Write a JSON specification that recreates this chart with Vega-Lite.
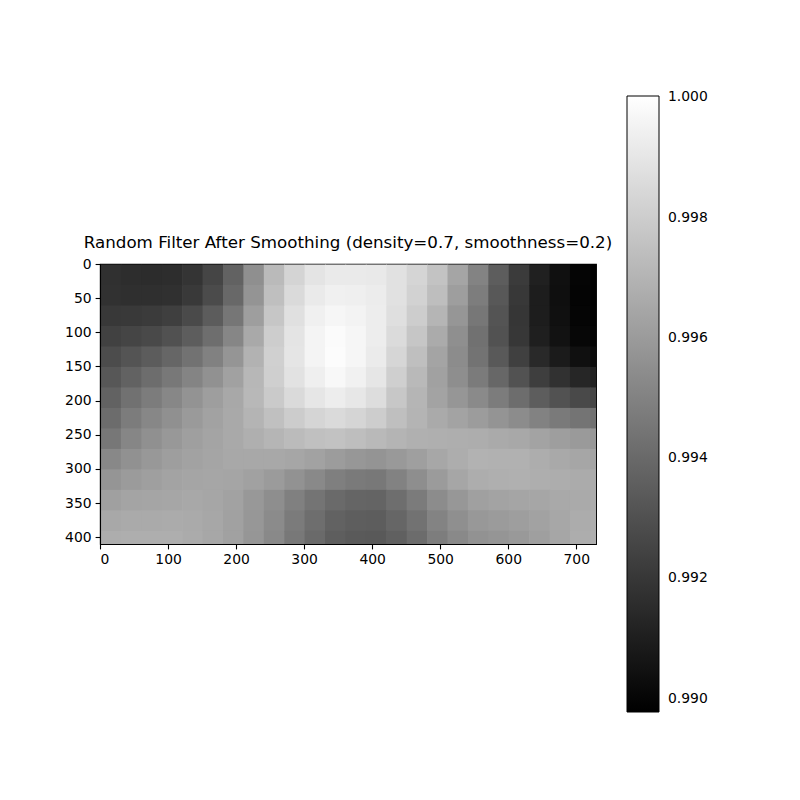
{
  "$schema": "https://vega.github.io/schema/vega-lite/v6.json",
  "width": 496,
  "height": 280,
  "autosize": {"type": "none"},
  "padding": {"left": 100, "top": 264, "right": 204, "bottom": 256},
  "background": "white",
  "title": {
    "text": "Random Filter After Smoothing (density=0.7, smoothness=0.2)",
    "font": "DejaVu Sans",
    "fontSize": 16.7,
    "fontWeight": "normal",
    "color": "black",
    "anchor": "middle",
    "frame": "group",
    "baseline": "alphabetic",
    "offset": -169
  },
  "data": {
    "values": [
      {"x":0,"y":0,"v":0.99172},{"x":30,"y":0,"v":0.9916},{"x":60,"y":0,"v":0.99156},{"x":90,"y":0,"v":0.9916},{"x":120,"y":0,"v":0.99188},{"x":150,"y":0,"v":0.99256},{"x":180,"y":0,"v":0.99372},{"x":210,"y":0,"v":0.99552},{"x":240,"y":0,"v":0.99724},{"x":270,"y":0,"v":0.99828},{"x":300,"y":0,"v":0.99892},{"x":330,"y":0,"v":0.99916},{"x":360,"y":0,"v":0.99916},{"x":390,"y":0,"v":0.99912},{"x":420,"y":0,"v":0.9988},{"x":450,"y":0,"v":0.99832},{"x":480,"y":0,"v":0.9976},{"x":510,"y":0,"v":0.9964},{"x":540,"y":0,"v":0.99504},{"x":570,"y":0,"v":0.99352},{"x":600,"y":0,"v":0.99216},{"x":630,"y":0,"v":0.99108},{"x":660,"y":0,"v":0.99044},{"x":690,"y":0,"v":0.99},{"x":720,"y":0,"v":0.9898},
      {"x":0,"y":30,"v":0.99176},{"x":30,"y":30,"v":0.99168},{"x":60,"y":30,"v":0.99168},{"x":90,"y":30,"v":0.99172},{"x":120,"y":30,"v":0.99208},{"x":150,"y":30,"v":0.9928},{"x":180,"y":30,"v":0.99396},{"x":210,"y":30,"v":0.99572},{"x":240,"y":30,"v":0.99744},{"x":270,"y":30,"v":0.99852},{"x":300,"y":30,"v":0.99916},{"x":330,"y":30,"v":0.9994},{"x":360,"y":30,"v":0.99936},{"x":390,"y":30,"v":0.99924},{"x":420,"y":30,"v":0.9988},{"x":450,"y":30,"v":0.9982},{"x":480,"y":30,"v":0.9974},{"x":510,"y":30,"v":0.99612},{"x":540,"y":30,"v":0.9948},{"x":570,"y":30,"v":0.99332},{"x":600,"y":30,"v":0.99204},{"x":630,"y":30,"v":0.99096},{"x":660,"y":30,"v":0.9904},{"x":690,"y":30,"v":0.98996},{"x":720,"y":30,"v":0.9898},
      {"x":0,"y":60,"v":0.99204},{"x":30,"y":60,"v":0.99208},{"x":60,"y":60,"v":0.99216},{"x":90,"y":60,"v":0.99232},{"x":120,"y":60,"v":0.99276},{"x":150,"y":60,"v":0.99348},{"x":180,"y":60,"v":0.99452},{"x":210,"y":60,"v":0.99612},{"x":240,"y":60,"v":0.99772},{"x":270,"y":60,"v":0.99876},{"x":300,"y":60,"v":0.9994},{"x":330,"y":60,"v":0.99964},{"x":360,"y":60,"v":0.99952},{"x":390,"y":60,"v":0.99928},{"x":420,"y":60,"v":0.99872},{"x":450,"y":60,"v":0.998},{"x":480,"y":60,"v":0.99704},{"x":510,"y":60,"v":0.9958},{"x":540,"y":60,"v":0.99456},{"x":570,"y":60,"v":0.99316},{"x":600,"y":60,"v":0.99196},{"x":630,"y":60,"v":0.99096},{"x":660,"y":60,"v":0.99044},{"x":690,"y":60,"v":0.99},{"x":720,"y":60,"v":0.98984},
      {"x":0,"y":90,"v":0.9924},{"x":30,"y":90,"v":0.99256},{"x":60,"y":90,"v":0.99272},{"x":90,"y":90,"v":0.99304},{"x":120,"y":90,"v":0.99352},{"x":150,"y":90,"v":0.9942},{"x":180,"y":90,"v":0.99516},{"x":210,"y":90,"v":0.99656},{"x":240,"y":90,"v":0.998},{"x":270,"y":90,"v":0.99892},{"x":300,"y":90,"v":0.99956},{"x":330,"y":90,"v":0.99984},{"x":360,"y":90,"v":0.99964},{"x":390,"y":90,"v":0.99928},{"x":420,"y":90,"v":0.99856},{"x":450,"y":90,"v":0.99772},{"x":480,"y":90,"v":0.99664},{"x":510,"y":90,"v":0.99552},{"x":540,"y":90,"v":0.99432},{"x":570,"y":90,"v":0.99308},{"x":600,"y":90,"v":0.992},{"x":630,"y":90,"v":0.99104},{"x":660,"y":90,"v":0.99052},{"x":690,"y":90,"v":0.99008},{"x":720,"y":90,"v":0.98992},
      {"x":0,"y":120,"v":0.99284},{"x":30,"y":120,"v":0.99316},{"x":60,"y":120,"v":0.99348},{"x":90,"y":120,"v":0.99388},{"x":120,"y":120,"v":0.99436},{"x":150,"y":120,"v":0.99496},{"x":180,"y":120,"v":0.99576},{"x":210,"y":120,"v":0.99692},{"x":240,"y":120,"v":0.99812},{"x":270,"y":120,"v":0.99896},{"x":300,"y":120,"v":0.99956},{"x":330,"y":120,"v":0.99988},{"x":360,"y":120,"v":0.99964},{"x":390,"y":120,"v":0.9992},{"x":420,"y":120,"v":0.99836},{"x":450,"y":120,"v":0.99744},{"x":480,"y":120,"v":0.99636},{"x":510,"y":120,"v":0.9954},{"x":540,"y":120,"v":0.9944},{"x":570,"y":120,"v":0.99336},{"x":600,"y":120,"v":0.99236},{"x":630,"y":120,"v":0.99144},{"x":660,"y":120,"v":0.99088},{"x":690,"y":120,"v":0.99044},{"x":720,"y":120,"v":0.99024},
      {"x":0,"y":150,"v":0.99328},{"x":30,"y":150,"v":0.99372},{"x":60,"y":150,"v":0.99416},{"x":90,"y":150,"v":0.9946},{"x":120,"y":150,"v":0.99508},{"x":150,"y":150,"v":0.9956},{"x":180,"y":150,"v":0.99624},{"x":210,"y":150,"v":0.99712},{"x":240,"y":150,"v":0.99808},{"x":270,"y":150,"v":0.99884},{"x":300,"y":150,"v":0.99936},{"x":330,"y":150,"v":0.99972},{"x":360,"y":150,"v":0.99944},{"x":390,"y":150,"v":0.999},{"x":420,"y":150,"v":0.99808},{"x":450,"y":150,"v":0.9972},{"x":480,"y":150,"v":0.99624},{"x":510,"y":150,"v":0.99548},{"x":540,"y":150,"v":0.99472},{"x":570,"y":150,"v":0.99392},{"x":600,"y":150,"v":0.99308},{"x":630,"y":150,"v":0.99228},{"x":660,"y":150,"v":0.99176},{"x":690,"y":150,"v":0.99132},{"x":720,"y":150,"v":0.99112},
      {"x":0,"y":180,"v":0.99372},{"x":30,"y":180,"v":0.99432},{"x":60,"y":180,"v":0.99476},{"x":90,"y":180,"v":0.9952},{"x":120,"y":180,"v":0.99568},{"x":150,"y":180,"v":0.99612},{"x":180,"y":180,"v":0.99652},{"x":210,"y":180,"v":0.99716},{"x":240,"y":180,"v":0.99788},{"x":270,"y":180,"v":0.99852},{"x":300,"y":180,"v":0.999},{"x":330,"y":180,"v":0.99928},{"x":360,"y":180,"v":0.99904},{"x":390,"y":180,"v":0.99864},{"x":420,"y":180,"v":0.99776},{"x":450,"y":180,"v":0.99704},{"x":480,"y":180,"v":0.99632},{"x":510,"y":180,"v":0.9958},{"x":540,"y":180,"v":0.99532},{"x":570,"y":180,"v":0.99476},{"x":600,"y":180,"v":0.99416},{"x":630,"y":180,"v":0.99352},{"x":660,"y":180,"v":0.99308},{"x":690,"y":180,"v":0.99272},{"x":720,"y":180,"v":0.99256},
      {"x":0,"y":210,"v":0.99412},{"x":30,"y":210,"v":0.99476},{"x":60,"y":210,"v":0.9952},{"x":90,"y":210,"v":0.99556},{"x":120,"y":210,"v":0.99596},{"x":150,"y":210,"v":0.99628},{"x":180,"y":210,"v":0.99656},{"x":210,"y":210,"v":0.997},{"x":240,"y":210,"v":0.99748},{"x":270,"y":210,"v":0.99796},{"x":300,"y":210,"v":0.99832},{"x":330,"y":210,"v":0.99852},{"x":360,"y":210,"v":0.99832},{"x":390,"y":210,"v":0.998},{"x":420,"y":210,"v":0.99744},{"x":450,"y":210,"v":0.997},{"x":480,"y":210,"v":0.9966},{"x":510,"y":210,"v":0.99632},{"x":540,"y":210,"v":0.99604},{"x":570,"y":210,"v":0.99572},{"x":600,"y":210,"v":0.9954},{"x":630,"y":210,"v":0.995},{"x":660,"y":210,"v":0.99468},{"x":690,"y":210,"v":0.99444},{"x":720,"y":210,"v":0.99432},
      {"x":0,"y":240,"v":0.99456},{"x":30,"y":240,"v":0.99516},{"x":60,"y":240,"v":0.99556},{"x":90,"y":240,"v":0.99588},{"x":120,"y":240,"v":0.99616},{"x":150,"y":240,"v":0.99636},{"x":180,"y":240,"v":0.99656},{"x":210,"y":240,"v":0.9968},{"x":240,"y":240,"v":0.99704},{"x":270,"y":240,"v":0.99728},{"x":300,"y":240,"v":0.99748},{"x":330,"y":240,"v":0.99756},{"x":360,"y":240,"v":0.9974},{"x":390,"y":240,"v":0.9972},{"x":420,"y":240,"v":0.997},{"x":450,"y":240,"v":0.99684},{"x":480,"y":240,"v":0.9968},{"x":510,"y":240,"v":0.99676},{"x":540,"y":240,"v":0.99672},{"x":570,"y":240,"v":0.9966},{"x":600,"y":240,"v":0.99652},{"x":630,"y":240,"v":0.99632},{"x":660,"y":240,"v":0.99612},{"x":690,"y":240,"v":0.99596},{"x":720,"y":240,"v":0.99588},
      {"x":0,"y":270,"v":0.99524},{"x":30,"y":270,"v":0.9956},{"x":60,"y":270,"v":0.99588},{"x":90,"y":270,"v":0.99612},{"x":120,"y":270,"v":0.99628},{"x":150,"y":270,"v":0.9964},{"x":180,"y":270,"v":0.99652},{"x":210,"y":270,"v":0.99652},{"x":240,"y":270,"v":0.99652},{"x":270,"y":270,"v":0.99644},{"x":300,"y":270,"v":0.99628},{"x":330,"y":270,"v":0.99604},{"x":360,"y":270,"v":0.99584},{"x":390,"y":270,"v":0.99572},{"x":420,"y":270,"v":0.99592},{"x":450,"y":270,"v":0.99616},{"x":480,"y":270,"v":0.99648},{"x":510,"y":270,"v":0.99672},{"x":540,"y":270,"v":0.99692},{"x":570,"y":270,"v":0.99688},{"x":600,"y":270,"v":0.99688},{"x":630,"y":270,"v":0.99672},{"x":660,"y":270,"v":0.99656},{"x":690,"y":270,"v":0.99644},{"x":720,"y":270,"v":0.99636},
      {"x":0,"y":300,"v":0.99576},{"x":30,"y":300,"v":0.996},{"x":60,"y":300,"v":0.99616},{"x":90,"y":300,"v":0.99632},{"x":120,"y":300,"v":0.9964},{"x":150,"y":300,"v":0.99644},{"x":180,"y":300,"v":0.9964},{"x":210,"y":300,"v":0.99624},{"x":240,"y":300,"v":0.996},{"x":270,"y":300,"v":0.99564},{"x":300,"y":300,"v":0.99528},{"x":330,"y":300,"v":0.99488},{"x":360,"y":300,"v":0.99468},{"x":390,"y":300,"v":0.9946},{"x":420,"y":300,"v":0.995},{"x":450,"y":300,"v":0.99548},{"x":480,"y":300,"v":0.996},{"x":510,"y":300,"v":0.99644},{"x":540,"y":300,"v":0.99672},{"x":570,"y":300,"v":0.9968},{"x":600,"y":300,"v":0.99684},{"x":630,"y":300,"v":0.99676},{"x":660,"y":300,"v":0.99672},{"x":690,"y":300,"v":0.99664},{"x":720,"y":300,"v":0.99664},
      {"x":0,"y":330,"v":0.9962},{"x":30,"y":330,"v":0.99636},{"x":60,"y":330,"v":0.9964},{"x":90,"y":330,"v":0.99644},{"x":120,"y":330,"v":0.99652},{"x":150,"y":330,"v":0.99644},{"x":180,"y":330,"v":0.99628},{"x":210,"y":330,"v":0.99588},{"x":240,"y":330,"v":0.99548},{"x":270,"y":330,"v":0.99492},{"x":300,"y":330,"v":0.99444},{"x":330,"y":330,"v":0.99404},{"x":360,"y":330,"v":0.99384},{"x":390,"y":330,"v":0.9938},{"x":420,"y":330,"v":0.9942},{"x":450,"y":330,"v":0.99472},{"x":480,"y":330,"v":0.9954},{"x":510,"y":330,"v":0.99584},{"x":540,"y":330,"v":0.9962},{"x":570,"y":330,"v":0.99632},{"x":600,"y":330,"v":0.9964},{"x":630,"y":330,"v":0.99644},{"x":660,"y":330,"v":0.99656},{"x":690,"y":330,"v":0.9966},{"x":720,"y":330,"v":0.99668},
      {"x":0,"y":360,"v":0.99652},{"x":30,"y":360,"v":0.9966},{"x":60,"y":360,"v":0.9966},{"x":90,"y":360,"v":0.99664},{"x":120,"y":360,"v":0.9966},{"x":150,"y":360,"v":0.99648},{"x":180,"y":360,"v":0.99624},{"x":210,"y":360,"v":0.99584},{"x":240,"y":360,"v":0.99536},{"x":270,"y":360,"v":0.99472},{"x":300,"y":360,"v":0.9942},{"x":330,"y":360,"v":0.99372},{"x":360,"y":360,"v":0.99356},{"x":390,"y":360,"v":0.99352},{"x":420,"y":360,"v":0.99388},{"x":450,"y":360,"v":0.99436},{"x":480,"y":360,"v":0.99504},{"x":510,"y":360,"v":0.99552},{"x":540,"y":360,"v":0.99588},{"x":570,"y":360,"v":0.996},{"x":600,"y":360,"v":0.99612},{"x":630,"y":360,"v":0.99628},{"x":660,"y":360,"v":0.99648},{"x":690,"y":360,"v":0.99668},{"x":720,"y":360,"v":0.99676},
      {"x":0,"y":390,"v":0.99672},{"x":30,"y":390,"v":0.99676},{"x":60,"y":390,"v":0.99676},{"x":90,"y":390,"v":0.99676},{"x":120,"y":390,"v":0.99664},{"x":150,"y":390,"v":0.99648},{"x":180,"y":390,"v":0.99624},{"x":210,"y":390,"v":0.9958},{"x":240,"y":390,"v":0.99528},{"x":270,"y":390,"v":0.9946},{"x":300,"y":390,"v":0.99404},{"x":330,"y":390,"v":0.99356},{"x":360,"y":390,"v":0.9934},{"x":390,"y":390,"v":0.99336},{"x":420,"y":390,"v":0.99364},{"x":450,"y":390,"v":0.99412},{"x":480,"y":390,"v":0.9948},{"x":510,"y":390,"v":0.99528},{"x":540,"y":390,"v":0.99564},{"x":570,"y":390,"v":0.99576},{"x":600,"y":390,"v":0.99592},{"x":630,"y":390,"v":0.99616},{"x":660,"y":390,"v":0.99644},{"x":690,"y":390,"v":0.99672},{"x":720,"y":390,"v":0.9968}
    ]
  },
  "mark": {"type": "rect", "clip": true, "binSpacing": 0, "strokeWidth": 0},
  "encoding": {
    "x": {
      "field": "x",
      "type": "quantitative",
      "bin": {"binned": true, "step": 31},
      "scale": {"domain": [0, 729], "nice": false, "zero": false},
      "axis": {"title": null, "values": [0, 100, 200, 300, 400, 500, 600, 700], "format": "d"}
    },
    "y": {
      "field": "y",
      "type": "quantitative",
      "bin": {"binned": true, "step": 31},
      "scale": {"domain": [0, 410], "nice": false, "zero": false, "reverse": true},
      "axis": {"title": null, "values": [0, 50, 100, 150, 200, 250, 300, 350, 400], "format": "d"}
    },
    "color": {
      "field": "v",
      "type": "quantitative",
      "scale": {"domain": [0.98978, 1.00002], "range": ["#000000", "#ffffff"], "interpolate": "rgb", "clamp": true},
      "legend": {
        "title": null,
        "orient": "none",
        "legendX": 527,
        "legendY": -168,
        "direction": "vertical",
        "padding": 0,
        "gradientLength": 616,
        "gradientThickness": 32,
        "gradientStrokeColor": "black",
        "gradientStrokeWidth": 1,
        "values": [0.99, 0.992, 0.994, 0.996, 0.998, 1.0],
        "format": ".3f",
        "labelFont": "DejaVu Sans",
        "labelFontSize": 13.9,
        "labelColor": "black",
        "labelOffset": 9,
        "labelBaseline": "middle",
        "labelOverlap": false
      }
    }
  },
  "config": {
    "view": {"stroke": "black", "strokeWidth": 1.1},
    "axis": {
      "grid": false,
      "labelFont": "DejaVu Sans",
      "labelFontSize": 13.9,
      "labelColor": "black",
      "domainColor": "black",
      "domainWidth": 1.1,
      "tickColor": "black",
      "tickWidth": 1.1,
      "tickSize": 4.9,
      "labelPadding": 4,
      "labelAngle": 0
    }
  }
}
